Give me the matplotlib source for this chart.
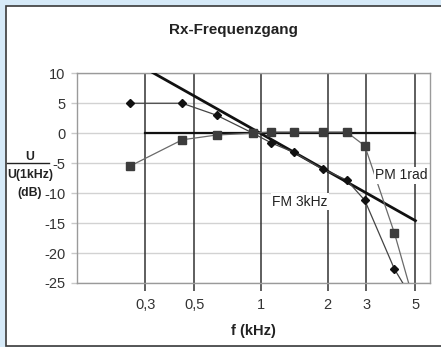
import matplotlib
matplotlib.use("Agg")
import matplotlib.pyplot as plt
from matplotlib.patches import Rectangle
from matplotlib.lines import Line2D
from matplotlib.ticker import FixedLocator, FixedFormatter, NullLocator

plt.rcParams['font.family'] = ['Liberation Sans', 'DejaVu Sans']

# measured points
freq_meas = [0.255, 0.44, 0.63, 0.92, 1.11, 1.41, 1.90, 2.44, 2.95, 4.02, 5.0]
fm_db = [5.0, 5.0, 3.0, 0.0, -1.6, -3.2, -6.0, -7.8, -11.2, -22.7, -28.5]
pm_db = [-5.5, -1.1, -0.3, 0.0, 0.2, 0.2, 0.2, 0.2, -2.1, -16.7, -29.0]

# theoretical curves
fm_theory_f = [0.3, 5.0]
fm_theory_db = [10.8, -14.6]
pm_theory_f = [0.3, 5.0]
pm_theory_db = [0.1, 0.1]

xticks = [0.3, 0.5, 1, 2, 3, 5]
xticklabels = ["0,3", "0,5", "1", "2", "3", "5"]
yticks = [-25, -20, -15, -10, -5, 0, 5, 10]

W, H = 441, 347
fig = plt.figure(figsize=(W / 100, H / 100), dpi=100)
fig.patch.set_facecolor('#d6eaf8')

# white panel with dark border
panel = Rectangle((6 / W, 1 - 345.5 / H), (W + 5 - 6) / W, (345.5 - 6) / H,
                  transform=fig.transFigure, facecolor='white',
                  edgecolor='#3a3a3a', linewidth=1.2, zorder=-10)
fig.patches.append(panel)

ax = fig.add_axes([77 / W, 1 - 283 / H, (430 - 77) / W, (283 - 73.3) / H])
ax.set_zorder(1)
ax.set_facecolor('white')
ax.set_xscale('log')
ax.set_xlim(0.147, 5.82)
ax.set_ylim(-25, 10)

ax.xaxis.set_major_locator(FixedLocator(xticks))
ax.xaxis.set_major_formatter(FixedFormatter(xticklabels))
ax.xaxis.set_minor_locator(NullLocator())
ax.set_yticks(yticks)
ax.set_yticklabels([str(v) for v in yticks])

for s in ax.spines.values():
    s.set_color('#9a9a9a')
    s.set_linewidth(1.0)

# grid lines
for y in yticks:
    ax.axhline(y, color='#d2d2d2', linewidth=1.0, zorder=1)
for x in xticks:
    ax.axvline(x, color='#333333', linewidth=1.1, zorder=1)

ax.tick_params(axis='x', direction='out', length=6, width=1.1, color='#333333',
               labelsize=10.5, labelcolor='#333333', pad=5)
ax.tick_params(axis='y', direction='out', length=4, width=1.0, color='#c8c8c8',
               labelsize=10.5, labelcolor='#333333', pad=4.5)

# theory lines
ax.plot(fm_theory_f, fm_theory_db, color='#111111', linewidth=2.0, zorder=3)
ax.plot(pm_theory_f, pm_theory_db, color='#111111', linewidth=1.6, zorder=3)

# measured
ax.plot(freq_meas, fm_db, color='#444444', linewidth=0.9, marker='D',
        markersize=3.6, markerfacecolor='#111111', markeredgecolor='#111111', zorder=4)
ax.plot(freq_meas, pm_db, color='#6a6a6a', linewidth=0.9, marker='s',
        markersize=5.2, markerfacecolor='#3c3c3c', markeredgecolor='#3c3c3c', zorder=4)

ax.text(4.33, -7.0, "PM 1rad", fontsize=10, color='#222222', ha='center', va='center',
        bbox=dict(facecolor='white', edgecolor='none', pad=1), zorder=5)
ax.text(1.50, -11.45, "FM 3kHz", fontsize=10, color='#222222', ha='center', va='center',
        bbox=dict(facecolor='white', edgecolor='none', pad=1), zorder=5)

# title and axis labels
fig.text(233 / W, 1 - 30 / H, "Rx-Frequenzgang", fontsize=11, fontweight='bold',
         ha='center', va='center', color='#222222')
fig.text(253 / W, 1 - 331 / H, "f (kHz)", fontsize=10.5, fontweight='bold',
         ha='center', va='center', color='#222222')

fig.text(30 / W, 1 - 157 / H, "U", fontsize=8.8, fontweight='bold',
         ha='center', va='center', color='#222222')
fig.lines.append(Line2D([7 / W, 49 / W], [1 - 163 / H, 1 - 163 / H],
                        transform=fig.transFigure, color='#222222', linewidth=1.0))
fig.text(30 / W, 1 - 175 / H, "U(1kHz)", fontsize=8.8, fontweight='bold',
         ha='center', va='center', color='#222222')
fig.text(30 / W, 1 - 193 / H, "(dB)", fontsize=8.8, fontweight='bold',
         ha='center', va='center', color='#222222')

fig.savefig("out.png", dpi=100, facecolor=fig.get_facecolor())
